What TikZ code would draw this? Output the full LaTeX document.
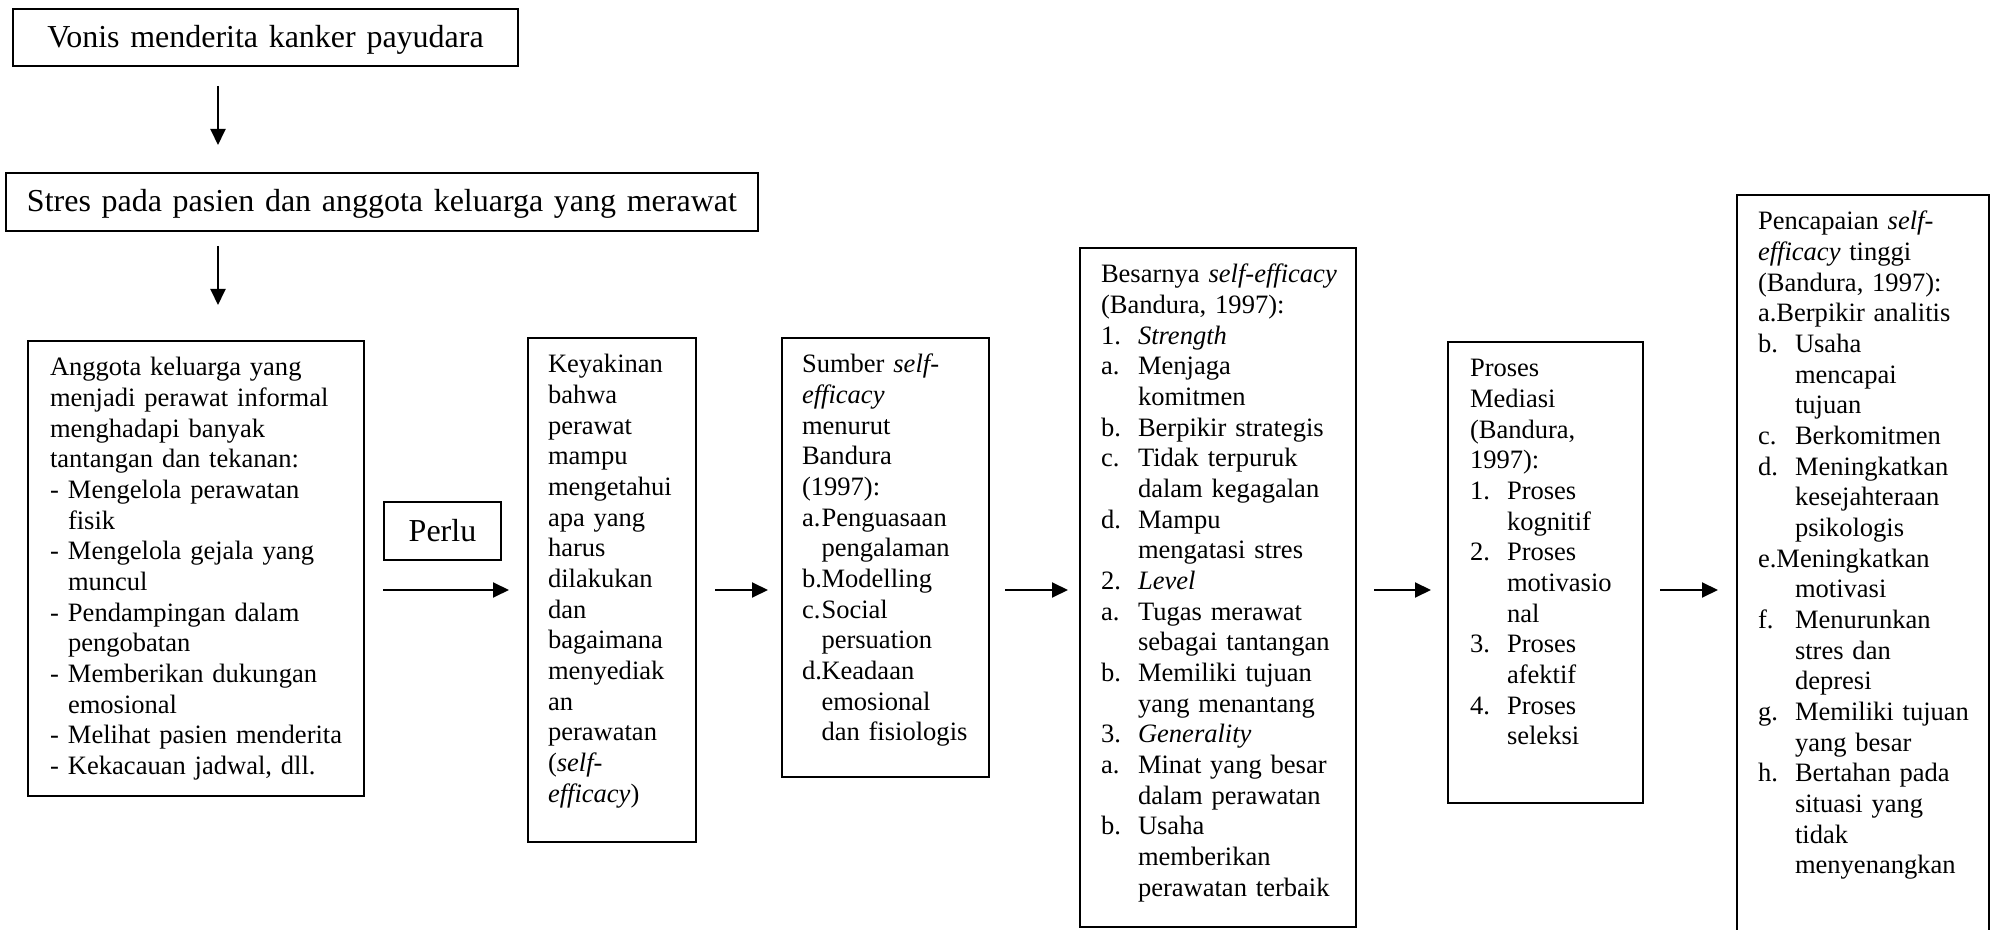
\documentclass[tikz,border=0pt]{standalone}
\usepackage{fontspec}
\setmainfont{Liberation Serif}
\usetikzlibrary{arrows.meta}

\hyphenpenalty=10000
\exhyphenpenalty=10000
\newcommand{\fsmall}{\fontsize{15.1pt}{17.45pt}\selectfont}
\newcommand{\fbig}{\fontsize{18.2pt}{21pt}\selectfont}
\newlength{\lblw}
\newcommand{\lbl}[1]{\makebox[\lblw][l]{#1}}
\newcommand{\cont}{\hspace*{\lblw}}

\begin{document}
\begin{tikzpicture}[>={Triangle[length=0.32cm,width=0.30cm]}, line width=1.1pt,
    headbox/.style={draw, rectangle, anchor=north west, inner xsep=0.38cm, inner ysep=0pt, outer sep=0pt, font=\fbig, text height=0.78cm, text depth=0.36cm},
    listbox/.style={draw, rectangle, anchor=north west, align=left, inner xsep=0.42cm, inner ysep=0pt, outer sep=0pt, font=\fsmall, text height=0.70cm}]

    \useasboundingbox (0,0) rectangle (39.82,-18.6);

    \node[headbox, text width=9.34cm, align=center] (vonis) at (0.26,-0.18) {Vonis menderita kanker payudara};
    \node[headbox, text width=14.20cm, align=left, inner xsep=0.42cm, text depth=0.38cm] (stres) at (0.12,-3.46) {Stres pada pasien dan anggota keluarga yang merawat};
    \node[headbox, text width=1.58cm, align=center, text height=0.80cm] (perlu) at (7.68,-10.04) {Perlu};

    \node[listbox, inner xsep=0.44cm, text width=5.84cm, text depth=8.40cm] (anggota) at (0.56,-6.82) {\setlength{\lblw}{0.36cm}%
        Anggota keluarga yang\\
        menjadi perawat informal\\
        menghadapi banyak\\
        tantangan dan tekanan:\\
        \lbl{-}Mengelola perawatan\\
        \cont fisik\\
        \lbl{-}Mengelola gejala yang\\
        \cont muncul\\
        \lbl{-}Pendampingan dalam\\
        \cont pengobatan\\
        \lbl{-}Memberikan dukungan\\
        \cont emosional\\
        \lbl{-}Melihat~pasien~menderita\\
        \lbl{-}Kekacauan jadwal, dll.};
    \node[listbox, inner xsep=0.40cm, text width=2.56cm, text depth=9.38cm] (keyakinan) at (10.56,-6.76) {%
        Keyakinan\\ bahwa\\ perawat\\ mampu\\ mengetahui\\ apa yang\\ harus\\ dilakukan\\ dan\\ bagaimana\\ menyediak\\ an\\ perawatan\\ (\textit{self-}\\ \textit{efficacy})};
    \node[listbox, inner xsep=0.40cm, text width=3.34cm, text depth=8.08cm] (sumber) at (15.64,-6.76) {\setlength{\lblw}{0.39cm}%
        Sumber \textit{self-}\\
        \textit{efficacy}\\
        menurut\\
        Bandura\\
        (1997):\\
        \lbl{a.}Penguasaan\\
        \cont pengalaman\\
        \lbl{b.}Modelling\\
        \lbl{c.}Social\\
        \cont persuation\\
        \lbl{d.}Keadaan\\
        \cont emosional\\
        \cont dan~fisiologis};
    \node[listbox, text width=4.68cm, text depth=12.88cm] (besarnya) at (21.60,-4.96) {\setlength{\lblw}{0.74cm}%
        Besarnya~\textit{self-efficacy}\\
        (Bandura, 1997):\\
        \lbl{1.}\textit{Strength}\\
        \lbl{a.}Menjaga\\
        \cont komitmen\\
        \lbl{b.}Berpikir~strategis\\
        \lbl{c.}Tidak terpuruk\\
        \cont dalam kegagalan\\
        \lbl{d.}Mampu\\
        \cont mengatasi stres\\
        \lbl{2.}\textit{Level}\\
        \lbl{a.}Tugas merawat\\
        \cont sebagai~tantangan\\
        \lbl{b.}Memiliki tujuan\\
        \cont yang menantang\\
        \lbl{3.}\textit{Generality}\\
        \lbl{a.}Minat yang besar\\
        \cont dalam perawatan\\
        \lbl{b.}Usaha\\
        \cont memberikan\\
        \cont perawatan~terbaik};
    \node[listbox, inner xsep=0.44cm, text width=3.02cm, text depth=8.52cm] (proses) at (28.96,-6.84) {\setlength{\lblw}{0.74cm}%
        Proses\\ Mediasi\\ (Bandura,\\ 1997):\\
        \lbl{1.}Proses\\
        \cont kognitif\\
        \lbl{2.}Proses\\
        \cont motivasio\\
        \cont nal\\
        \lbl{3.}Proses\\
        \cont afektif\\
        \lbl{4.}Proses\\
        \cont seleksi};
    \node[listbox, inner xsep=0.42cm, text width=4.20cm, text depth=14.50cm] (pencapaian) at (34.74,-3.90) {\setlength{\lblw}{0.74cm}%
        Pencapaian \textit{self-}\\
        \textit{efficacy} tinggi\\
        (Bandura, 1997):\\
        a.Berpikir~analitis\\
        \lbl{b.}Usaha\\
        \cont mencapai\\
        \cont tujuan\\
        \lbl{c.}Berkomitmen\\
        \lbl{d.}Meningkatkan\\
        \cont kesejahteraan\\
        \cont psikologis\\
        e.Meningkatkan\\
        \cont motivasi\\
        \lbl{f.}Menurunkan\\
        \cont stres dan\\
        \cont depresi\\
        \lbl{g.}Memiliki~tujuan\\
        \cont yang besar\\
        \lbl{h.}Bertahan~pada\\
        \cont situasi yang\\
        \cont tidak\\
        \cont menyenangkan};

    \coordinate (c1) at ([xshift=4.10cm]vonis.south west);
    \coordinate (c2) at ([xshift=4.24cm]stres.south west);
    \coordinate (row) at (0,-11.80);

    \draw[->, shorten <=0.40cm, shorten >=0.56cm] (c1) -- (c1 |- stres.north);
    \draw[->, shorten <=0.30cm, shorten >=0.72cm] (c2) -- (c2 |- anggota.north);
    \draw[->, shorten <=0.38cm, shorten >=0.38cm] (anggota.east |- row) -- (keyakinan.west |- row);
    \draw[->, shorten <=0.38cm, shorten >=0.28cm] (keyakinan.east |- row) -- (sumber.west |- row);
    \draw[->, shorten <=0.32cm, shorten >=0.24cm] (sumber.east |- row) -- (besarnya.west |- row);
    \draw[->, shorten <=0.36cm, shorten >=0.34cm] (besarnya.east |- row) -- (proses.west |- row);
    \draw[->, shorten <=0.34cm, shorten >=0.38cm] (proses.east |- row) -- (pencapaian.west |- row);
\end{tikzpicture}
\end{document}
